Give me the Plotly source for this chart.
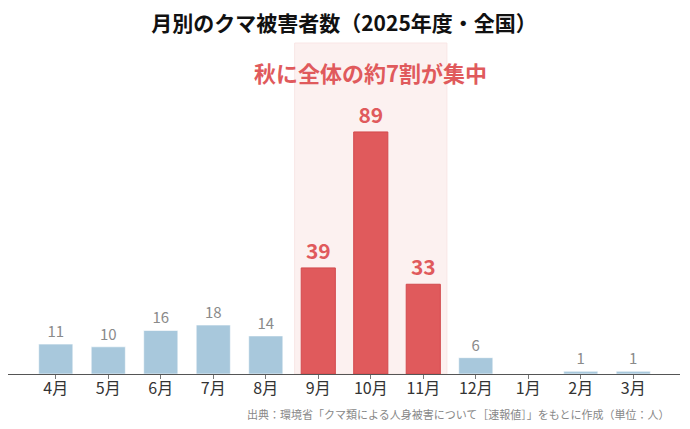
import plotly.graph_objects as go

months = ['4月', '5月', '6月', '7月', '8月', '9月', '10月', '11月', '12月', '1月', '2月', '3月']
victims = [11, 10, 16, 18, 14, 39, 89, 33, 6, 0, 1, 1]
autumn = {'9月', '10月', '11月'}

title_text = '月別のクマ被害者数（2025年度・全国）'
note_text = '秋に全体の約7割が集中'
source_text = '出典：環境省「クマ類による人身被害について［速報値］」をもとに作成（単位：人）'

font_name = 'Noto Sans CJK JP'
blue = '#a8c8dc'
red = '#e05a5c'

blue_vals = [None if m in autumn else v for m, v in zip(months, victims)]
red_vals = [v if m in autumn else None for m, v in zip(months, victims)]
blue_text = ['' if (m in autumn or v == 0) else str(v) for m, v in zip(months, victims)]
red_text = [str(v) if m in autumn else '' for m, v in zip(months, victims)]

fig = go.Figure()

fig.add_trace(go.Bar(
    x=months, y=blue_vals, text=blue_text,
    textposition='outside', cliponaxis=False,
    textfont=dict(family=font_name, size=15, color='#8a8a8a'),
    marker=dict(color=blue, line=dict(color='rgba(255,255,255,0.6)', width=1)),
    width=0.65, hoverinfo='skip',
))
fig.add_trace(go.Bar(
    x=months, y=red_vals, text=red_text,
    textposition='outside', cliponaxis=False,
    textfont=dict(family=font_name, size=21, color=red, weight='bold'),
    marker=dict(color=red, line=dict(color='#d24a4d', width=1)),
    width=0.65, hoverinfo='skip',
))

# autumn highlight band
fig.add_shape(type='rect', xref='x', yref='paper', x0=4.55, x1=7.45, y0=0, y1=1,
              fillcolor='#fcf1f0', line=dict(color='#f9e6e5', width=1), layer='below')

fig.add_annotation(x=6, y=(366 - 64) / 331, xref='x', yref='paper', text=note_text,
                   showarrow=False, xanchor='center', yanchor='middle',
                   font=dict(family=font_name, size=22, color=red, weight='bold'))
fig.add_annotation(x=664 / 672, y=-(406 - 366) / 331, xref='paper', yref='paper',
                   text=source_text, showarrow=False, xanchor='right', yanchor='middle',
                   font=dict(family=font_name, size=11, color='#888888'))

fig.update_layout(
    width=690, height=429,
    margin=dict(l=0, r=18, t=35, b=63),
    barmode='overlay', showlegend=False,
    plot_bgcolor='white', paper_bgcolor='white',
    title=dict(text=title_text, x=336 / 690, xanchor='center', y=1 - 16 / 429, yanchor='middle',
               font=dict(family=font_name, size=21, color='#111111', weight='bold')),
    xaxis=dict(range=[-0.91, 11.89], showgrid=False, zeroline=False,
               showline=True, linecolor='#555555', linewidth=1,
               ticks='outside', ticklen=4, tickcolor='#777777', ticklabelstandoff=-4,
               tickfont=dict(family=font_name, size=16, color='#333333'), fixedrange=True),
    yaxis=dict(range=[0, 121.7], visible=False, fixedrange=True),
)

fig.write_html("out.html")
